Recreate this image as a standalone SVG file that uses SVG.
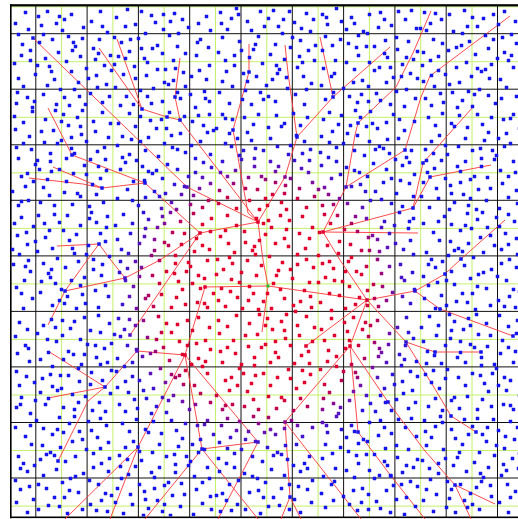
<svg xmlns="http://www.w3.org/2000/svg" xmlns:xlink="http://www.w3.org/1999/xlink" width="518" height="519" viewBox="0 0 518 519">
<style>
.gg{stroke:#c4f06a;stroke-width:1;fill:none}
.gd{stroke:#111;stroke-width:1;fill:none}
.ln{stroke:#ff3636;stroke-width:1;fill:none;stroke-opacity:.9}
</style>
<defs>
<radialGradient id="rg" gradientUnits="userSpaceOnUse" cx="264" cy="300" r="180">
<stop offset="0" stop-color="#e8002a"/>
<stop offset=".55" stop-color="#e0002e"/>
<stop offset=".64" stop-color="#b4005c"/>
<stop offset=".72" stop-color="#7010b0"/>
<stop offset=".81" stop-color="#3014d8"/>
<stop offset=".92" stop-color="#1414ec"/>
</radialGradient>
<path id="A" d="M13 4h3v3h-3zM47 8h3v3h-3zM52 11h3v3h-3zM88 3h3v3h-3zM71 19h3v3h-3zM29 17h3v3h-3zM6 26h3v3h-3zM95 24h3v3h-3zM40 31h3v3h-3zM61 34h3v3h-3zM63 38h3v3h-3zM18 42h3v3h-3zM81 40h3v3h-3zM33 50h3v3h-3zM2 55h3v3h-3zM54 53h3v3h-3zM92 57h3v3h-3zM74 60h3v3h-3zM23 66h3v3h-3zM42 71h3v3h-3zM11 78h3v3h-3zM66 74h3v3h-3zM85 79h3v3h-3zM31 86h3v3h-3zM52 89h3v3h-3zM97 88h3v3h-3zM4 95h3v3h-3zM73 96h3v3h-3zM20 99h3v3h-3zM44 96h3v3h-3zM59 6h3v3h-3zM35 3h3v3h-3zM79 13h3v3h-3zM16 21h3v3h-3zM50 22h3v3h-3zM27 34h3v3h-3zM87 31h3v3h-3zM9 47h3v3h-3zM46 44h3v3h-3zM68 48h3v3h-3zM98 47h3v3h-3zM25 57h3v3h-3zM59 63h3v3h-3zM84 67h3v3h-3zM6 70h3v3h-3zM35 77h3v3h-3zM78 85h3v3h-3zM90 94h3v3h-3zM62 81h3v3h-3zM15 89h3v3h-3zM39 63h3v3h-3zM57 97h3v3h-3zM94 76h3v3h-3zM3 15h3v3h-3zM70 30h3v3h-3zM48 81h3v3h-3zM26 8h3v3h-3zM37 58h3v3h-3zM83 51h3v3h-3zM10 36h3v3h-3zM56 28h3v3h-3zM22 93h3v3h-3zM67 88h3v3h-3zM90 18h3v3h-3zM44 15h3v3h-3zM76 70h3v3h-3zM31 26h3v3h-3zM99 62h3v3h-3zM5 84h3v3h-3zM60 42h3v3h-3zM18 52h3v3h-3zM86 45h3v3h-3z"/>
<path id="B" d="M8 7h3v3h-3zM31 13h3v3h-3zM34 16h3v3h-3zM57 4h3v3h-3zM83 9h3v3h-3zM99 18h3v3h-3zM19 25h3v3h-3zM45 28h3v3h-3zM68 22h3v3h-3zM90 33h3v3h-3zM5 39h3v3h-3zM27 44h3v3h-3zM52 40h3v3h-3zM76 45h3v3h-3zM74 49h3v3h-3zM14 58h3v3h-3zM40 61h3v3h-3zM61 56h3v3h-3zM95 62h3v3h-3zM3 72h3v3h-3zM30 75h3v3h-3zM50 69h3v3h-3zM82 73h3v3h-3zM18 88h3v3h-3zM43 84h3v3h-3zM66 90h3v3h-3zM88 87h3v3h-3zM9 97h3v3h-3zM56 99h3v3h-3zM79 98h3v3h-3zM22 3h3v3h-3zM71 7h3v3h-3zM47 17h3v3h-3zM11 31h3v3h-3zM38 36h3v3h-3zM60 38h3v3h-3zM86 23h3v3h-3zM21 50h3v3h-3zM93 51h3v3h-3zM54 66h3v3h-3zM34 92h3v3h-3zM70 78h3v3h-3zM96 80h3v3h-3zM1 86h3v3h-3zM64 30h3v3h-3zM25 68h3v3h-3zM80 60h3v3h-3zM45 51h3v3h-3zM13 43h3v3h-3zM39 5h3v3h-3zM93 4h3v3h-3zM7 62h3v3h-3zM58 79h3v3h-3zM29 99h3v3h-3zM84 36h3v3h-3zM67 67h3v3h-3zM48 95h3v3h-3zM15 15h3v3h-3zM62 14h3v3h-3zM37 56h3v3h-3zM88 66h3v3h-3zM25 35h3v3h-3zM72 40h3v3h-3zM50 88h3v3h-3zM6 50h3v3h-3zM97 93h3v3h-3zM40 72h3v3h-3zM78 28h3v3h-3zM31 83h3v3h-3zM61 48h3v3h-3zM90 8h3v3h-3zM16 78h3v3h-3z"/>
<mask id="dm" maskUnits="userSpaceOnUse" x="0" y="0" width="518" height="519">
<g fill="#fff" stroke="#fff" stroke-width=".5">
<use xlink:href="#A" transform="translate(11 7)"/>
<use xlink:href="#B" transform="translate(113 7) rotate(90 51 51)"/>
<use xlink:href="#A" transform="translate(215 109) scale(1 -1)"/>
<use xlink:href="#B" transform="translate(317 7) rotate(270 51 51)"/>
<use xlink:href="#A" transform="translate(419 7) rotate(90 51 51)"/>
<use xlink:href="#B" transform="translate(11 109) rotate(180 51 51)"/>
<use xlink:href="#A" transform="translate(113 109) rotate(270 51 51) translate(102 0) scale(-1 1)"/>
<use xlink:href="#B" transform="translate(317 109) scale(-1 1)"/>
<use xlink:href="#A" transform="translate(317 109) rotate(90 51 51) translate(102 0) scale(-1 1)"/>
<use xlink:href="#B" transform="translate(419 109)"/>
<use xlink:href="#A" transform="translate(11 211) rotate(180 51 51)"/>
<use xlink:href="#B" transform="translate(113 313) scale(1 -1)"/>
<use xlink:href="#A" transform="translate(317 211) scale(-1 1)"/>
<use xlink:href="#B" transform="translate(317 211) rotate(90 51 51) translate(102 0) scale(-1 1)"/>
<use xlink:href="#A" transform="translate(419 211) rotate(270 51 51)"/>
<use xlink:href="#B" transform="translate(11 313) rotate(270 51 51) translate(102 0) scale(-1 1)"/>
<use xlink:href="#A" transform="translate(113 313) rotate(90 51 51)"/>
<use xlink:href="#B" transform="translate(215 313) rotate(180 51 51)"/>
<use xlink:href="#A" transform="translate(317 313)"/>
<use xlink:href="#B" transform="translate(419 415) scale(1 -1)"/>
<use xlink:href="#A" transform="translate(11 415) rotate(270 51 51)"/>
<use xlink:href="#B" transform="translate(113 415)"/>
<use xlink:href="#A" transform="translate(215 415) rotate(90 51 51) translate(102 0) scale(-1 1)"/>
<use xlink:href="#B" transform="translate(317 415) rotate(270 51 51)"/>
<use xlink:href="#A" transform="translate(419 517) scale(1 -1)"/>
<path d="M31.5 36.5h3v3h-3zM185.5 185.5h3v3h-3zM256.5 220.5h3v3h-3zM140.5 107.5h3v3h-3zM165.5 115.5h3v3h-3zM178.5 118.5h3v3h-3zM173.5 95.5h3v3h-3zM247.5 70.5h3v3h-3zM231.5 128.5h3v3h-3zM70.5 153.5h3v3h-3zM143.5 181.5h3v3h-3zM198.5 231.5h3v3h-3zM100.5 186.5h3v3h-3zM97.5 242.5h3v3h-3zM123.5 276.5h3v3h-3zM63.5 289.5h3v3h-3zM128.5 333.5h3v3h-3zM103.5 385.5h3v3h-3zM135.5 349.5h3v3h-3zM183.5 353.5h3v3h-3zM200.5 447.5h3v3h-3zM256.5 440.5h3v3h-3zM136.5 445.5h3v3h-3zM56.5 459.5h3v3h-3zM283.5 175.5h3v3h-3zM295.5 135.5h3v3h-3zM331.5 95.5h3v3h-3zM356.5 121.5h3v3h-3zM344.5 185.5h3v3h-3zM321.5 230.5h3v3h-3zM403.5 148.5h3v3h-3zM421.5 161.5h3v3h-3zM411.5 206.5h3v3h-3zM428.5 175.5h3v3h-3zM365.5 298.5h3v3h-3zM413.5 289.5h3v3h-3zM443.5 272.5h3v3h-3zM459.5 257.5h3v3h-3zM438.5 307.5h3v3h-3zM404.5 340.5h3v3h-3zM433.5 350.5h3v3h-3zM449.5 414.5h3v3h-3zM348.5 344.5h3v3h-3zM356.5 430.5h3v3h-3zM389.5 474.5h3v3h-3zM283.5 420.5h3v3h-3zM288.5 495.5h3v3h-3zM304.5 344.5h3v3h-3zM453.5 483.5h3v3h-3zM386.5 400.5h3v3h-3zM203.5 285.5h3v3h-3zM511.5 334.5h3v3h-3zM479.5 350.5h3v3h-3zM474.5 430.5h3v3h-3z"/>
</g>
</mask>
</defs>
<rect width="518" height="519" fill="#fff"/>
<g id="grid">
<path class="gg" d="M61.6 6V517M112.9 6V517M164.2 6V517M215.5 6V517M266.8 6V517M318.1 6V517M369.4 6V517M420.7 6V517M472 6V517M10 6.8H518M10 61.7H518M10 117.3H518M10 172.8H518M10 228.4H518M10 283.9H518M10 339.4H518M10 395H518M10 450.5H518M10 506.1H518"/>
<path class="gd" d="M35.8 6V517M87.1 6V517M138.4 6V517M189.7 6V517M241 6V517M292.3 6V517M343.6 6V517M394.9 6V517M446.2 6V517M497.5 6V517M10 33.7H518M10 89.2H518M10 144.8H518M10 200.3H518M10 255.9H518M10 311.4H518M10 366.9H518M10 422.5H518M10 478H518"/>
<rect x="10" y="4.2" width="508" height="2.2" fill="#000"/>
<rect x="10" y="4.2" width="1.6" height="514" fill="#000"/>
<rect x="10" y="516.5" width="508" height="1.6" fill="#000"/>
</g>
<g id="connectors" class="ln">
<polyline points="33,38 187,187 258,222"/>
<polyline points="117,39 142,109 167,117 180,120 258,222"/>
<polyline points="99,48 142,109"/>
<polyline points="180,58 175,97 180,120"/>
<polyline points="249,44 249,72 233,130 248,213 258,222"/>
<polyline points="48,108 72,155 145,183 200,233 258,222"/>
<polyline points="29,178 83,184 102,188 145,183"/>
<polyline points="53,167 102,188"/>
<polyline points="57,246 99,244 110,259 125,278 160,260 200,233"/>
<polyline points="99,244 88,259 65,291 48,325"/>
<polyline points="125,278 65,291"/>
<polyline points="200,233 130,335"/>
<polyline points="48,351 105,387"/>
<polyline points="48,398 105,387 137,351 185,355"/>
<polyline points="105,387 88,401 58,461"/>
<polyline points="185,355 202,449 258,442 185,355"/>
<polyline points="202,449 258,519"/>
<polyline points="202,449 145,519"/>
<polyline points="258,442 218,519"/>
<polyline points="185,355 138,447 110,519"/>
<polyline points="138,447 65,519"/>
<polyline points="268,286 263,260 258,222"/>
<polyline points="258,222 285,177 297,137 288,73 285,45"/>
<polyline points="297,137 333,97 390,47"/>
<polyline points="333,97 320,37"/>
<polyline points="431,11 413,53 396,87 358,123 355,135 346,187 323,232"/>
<polyline points="510,16 430,76 421,97 405,150 346,187"/>
<polyline points="473,107 423,163 413,208"/>
<polyline points="491,165 430,177 413,208 323,232"/>
<polyline points="323,232 418,233"/>
<polyline points="323,232 340,260 367,300 268,286"/>
<polyline points="367,300 415,291 445,274 461,259 505,220"/>
<polyline points="415,291 440,309 513,336"/>
<polyline points="367,300 406,342 435,352 481,352"/>
<polyline points="406,342 435,389 451,416 476,432"/>
<polyline points="367,300 350,346 358,432 391,476 425,519"/>
<polyline points="350,346 285,422 290,497 281,519"/>
<polyline points="285,422 361,519"/>
<polyline points="290,497 301,519"/>
<polyline points="367,300 306,346"/>
<polyline points="350,346 388,402 425,451 455,485 495,504"/>
<polyline points="455,485 471,519"/>
<polyline points="268,286 205,287 185,355"/>
<polyline points="268,286 262,332"/>
</g>
<g id="points">
<rect x="11" y="6.5" width="507" height="510" fill="url(#rg)" mask="url(#dm)"/>
<rect x="266.5" y="284.5" width="3" height="3" fill="#2cc02c"/>
</g>
</svg>
